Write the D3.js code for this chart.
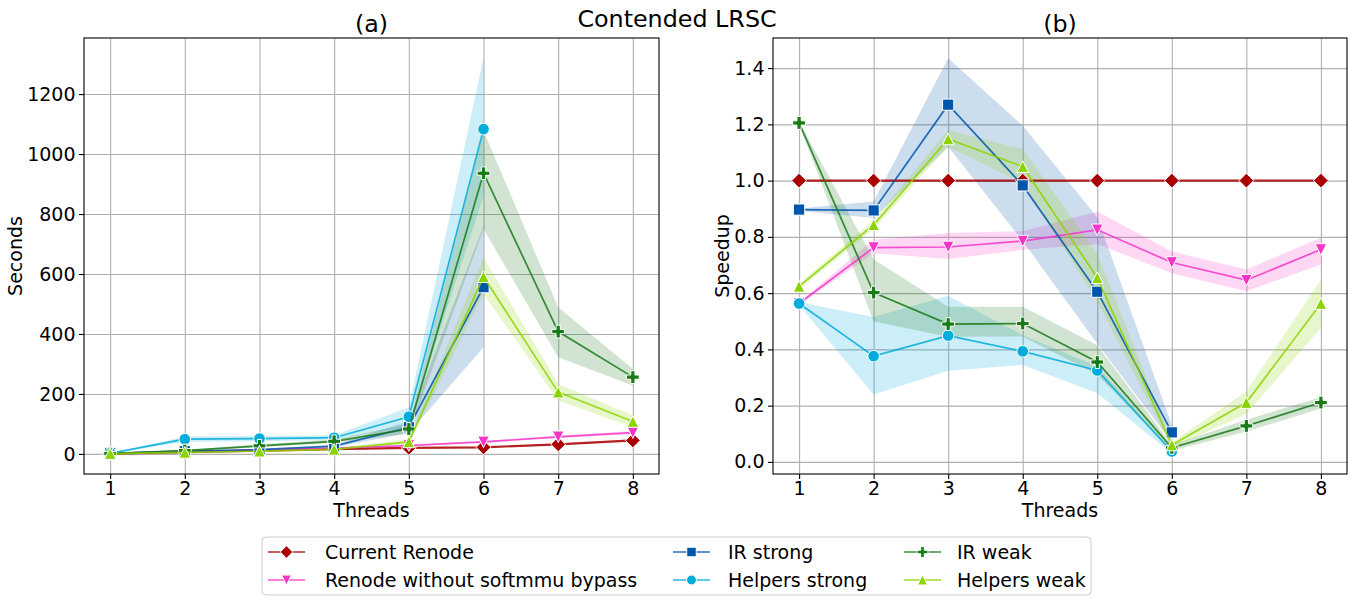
<!DOCTYPE html>
<html>
<head>
<meta charset="utf-8">
<script src="https://cdn.jsdelivr.net/npm/d3@7"></script>
<style>
body { margin: 0; background: #fff; }
svg { font-family: "DejaVu Sans", sans-serif; }
</style>
</head>
<body>
<svg id="chart" width="1358" height="599"></svg>
<script>
var threads = [1, 2, 3, 4, 5, 6, 7, 8];
var names = ["Current Renode", "Renode without softmmu bypass", "IR strong", "Helpers strong", "IR weak", "Helpers weak"];
var colors = ["#aa0000", "#f535c9", "#0056aa", "#00acdb", "#187a18", "#8cd400"];
var markers = ["diamond", "triDown", "square", "circle", "plus", "triUp"];

// (a) seconds: mean, lower and upper band
var secCurrent = [1, 6, 11, 16, 20, 22, 32, 45];
var secCurrentLo = [0.5, 5, 10, 14, 18, 20, 29, 41];
var secCurrentHi = [1.5, 7, 12, 18, 22, 24, 35, 49];
var secNoBypass = [2, 8, 13, 19, 28, 40, 57, 71];
var secNoBypassLo = [1.5, 7, 11, 17, 25, 37, 53, 66];
var secNoBypassHi = [2.5, 9, 15, 21, 31, 43, 61, 76];
var secIrStrong = [2, 9, 14, 26, 89, 556];
var secIrStrongLo = [1.5, 7, 12, 22, 70, 356];
var secIrStrongHi = [2.5, 11, 17, 30, 110, 761];
var secHelpStrong = [2, 49, 51, 54, 124, 1083];
var secHelpStrongLo = [1.5, 40, 42, 46, 92, 860];
var secHelpStrongHi = [2.5, 58, 60, 62, 155, 1322];
var secIrWeak = [1, 11, 27, 42, 83, 936, 408, 256];
var secIrWeakLo = [0.5, 9, 22, 36, 68, 750, 322, 228];
var secIrWeakHi = [1.5, 13, 32, 48, 100, 1078, 489, 283];
var secHelpWeak = [1, 5, 9, 15, 40, 591, 206, 108];
var secHelpWeakLo = [0.5, 4, 7, 12, 32, 533, 178, 89];
var secHelpWeakHi = [1.5, 6, 11, 18, 50, 656, 233, 128];

// (b) speedup
var spCurrent = [1, 1, 1, 1, 1, 1, 1, 1];
var spNoBypass = [0.563, 0.762, 0.764, 0.785, 0.825, 0.709, 0.646, 0.755];
var spNoBypassLo = [0.558, 0.742, 0.721, 0.754, 0.775, 0.671, 0.607, 0.702];
var spNoBypassHi = [0.568, 0.79, 0.814, 0.82, 0.89, 0.748, 0.684, 0.797];
var spIrStrong = [0.897, 0.894, 1.27, 0.983, 0.605, 0.105];
var spIrStrongLo = [0.893, 0.867, 1.12, 0.785, 0.42, 0.07];
var spIrStrongHi = [0.901, 0.926, 1.435, 1.195, 0.87, 0.13];
var spHelpStrong = [0.563, 0.376, 0.449, 0.393, 0.325, 0.037];
var spHelpStrongLo = [0.558, 0.24, 0.324, 0.345, 0.244, 0.03];
var spHelpStrongHi = [0.568, 0.515, 0.591, 0.45, 0.34, 0.045];
var spIrWeak = [1.205, 0.602, 0.49, 0.492, 0.355, 0.05, 0.128, 0.211];
var spIrWeakLo = [1.2, 0.499, 0.445, 0.446, 0.31, 0.04, 0.108, 0.19];
var spIrWeakHi = [1.21, 0.72, 0.552, 0.552, 0.415, 0.06, 0.15, 0.23];
var spHelpWeak = [0.624, 0.843, 1.148, 1.05, 0.655, 0.06, 0.211, 0.563];
var spHelpWeakLo = [0.614, 0.828, 1.12, 0.99, 0.57, 0.05, 0.17, 0.476];
var spHelpWeakHi = [0.634, 0.86, 1.18, 1.112, 0.74, 0.07, 0.25, 0.648];

var secTicks = [0, 200, 400, 600, 800, 1000, 1200];
var spTicks = [0, 0.2, 0.4, 0.6, 0.8, 1.0, 1.2, 1.4];

var fontSize = 19;
var titleSize = 23.8;

var svg = d3.select("#chart");

function markerPath(type, s) {
    var h;
    if (type == "diamond") { h = 7.4 * s; return "M0," + (-h) + "L" + h + ",0L0," + h + "L" + (-h) + ",0Z"; }
    if (type == "square") { h = 5.6 * s; return "M" + (-h) + "," + (-h) + "H" + h + "V" + h + "H" + (-h) + "Z"; }
    if (type == "circle") { h = 5.8 * s; return "M" + h + ",0A" + h + "," + h + " 0 1,1 " + (-h) + ",0A" + h + "," + h + " 0 1,1 " + h + ",0Z"; }
    if (type == "triUp") { h = 5.8 * s; return "M0," + (-h) + "L" + h + "," + h + "L" + (-h) + "," + h + "Z"; }
    if (type == "triDown") { h = 5.8 * s; return "M0," + h + "L" + h + "," + (-h) + "L" + (-h) + "," + (-h) + "Z"; }
    if (type == "plus") {
        h = 6.4 * s; var a = 2.1 * s;
        return "M" + (-a) + "," + (-h) + "H" + a + "V" + (-a) + "H" + h + "V" + a + "H" + a + "V" + h +
               "H" + (-a) + "V" + a + "H" + (-h) + "V" + (-a) + "H" + (-a) + "Z";
    }
}

function drawPanel(opts) {
    var g = svg.append("g");
    var x = d3.scaleLinear().domain([0.65, 8.35]).range([opts.left, opts.right]);
    var y = d3.scaleLinear().domain(opts.yDomain).range([474, 38]);

    // grid
    g.append("g").attr("transform", "translate(0,474)")
        .call(d3.axisBottom(x).tickValues(threads).tickSize(-436).tickFormat(""))
        .call(function(a) { a.select(".domain").remove(); a.selectAll("line").attr("stroke", "#b0b0b0").attr("stroke-width", 1.1); });
    g.append("g").attr("transform", "translate(" + opts.left + ",0)")
        .call(d3.axisLeft(y).tickValues(opts.yTicks).tickSize(-(opts.right - opts.left)).tickFormat(""))
        .call(function(a) { a.select(".domain").remove(); a.selectAll("line").attr("stroke", "#b0b0b0").attr("stroke-width", 1.1); });

    var plot = g.append("g");
    // bands underneath all lines
    opts.series.forEach(function(s) {
        if (!s.lo) return;
        var pts = s.mean.map(function(v, i) { return i; });
        var area = d3.area()
            .x(function(i) { return x(threads[i]); })
            .y0(function(i) { return y(s.lo[i]); })
            .y1(function(i) { return y(s.hi[i]); });
        plot.append("path").datum(pts).attr("d", area)
            .attr("fill", s.color).attr("fill-opacity", 0.2).attr("stroke", "none");
    });
    opts.series.forEach(function(s) {
        var pts = s.mean.map(function(v, i) { return i; });
        var line = d3.line().x(function(i) { return x(threads[i]); }).y(function(i) { return y(s.mean[i]); });
        plot.append("path").datum(pts).attr("d", line)
            .attr("fill", "none").attr("stroke", s.color).attr("stroke-opacity", 0.85)
            .attr("stroke-width", s.marker == "diamond" ? 2.2 : 1.7);
        plot.selectAll(null).data(pts).enter().append("path")
            .attr("transform", function(i) { return "translate(" + x(threads[i]) + "," + y(s.mean[i]) + ")"; })
            .attr("d", markerPath(s.marker, 1))
            .attr("fill", s.color).attr("stroke", "#fff").attr("stroke-width", 1);
    });

    // axes
    var xa = g.append("g").attr("transform", "translate(0,474)")
        .call(d3.axisBottom(x).tickValues(threads).tickSize(5).tickPadding(3).tickFormat(d3.format("d")));
    var ya = g.append("g").attr("transform", "translate(" + opts.left + ",0)")
        .call(d3.axisLeft(y).tickValues(opts.yTicks).tickSize(5).tickPadding(3.5).tickFormat(opts.fmt));
    [xa, ya].forEach(function(a) {
        a.select(".domain").remove();
        a.selectAll("text").attr("font-size", fontSize).attr("fill", "#000").attr("font-family", "DejaVu Sans");
        a.selectAll("line").attr("stroke", "#000").attr("stroke-width", 1.1);
    });
    g.append("rect").attr("x", opts.left).attr("y", 38).attr("width", opts.right - opts.left).attr("height", 436)
        .attr("fill", "none").attr("stroke", "#000").attr("stroke-width", 1.1);

    var cx = (opts.left + opts.right) / 2;
    g.append("text").attr("x", cx).attr("y", 517).attr("text-anchor", "middle").attr("font-size", fontSize).text("Threads");
    g.append("text").attr("transform", "translate(" + opts.labelX + ",256) rotate(-90)")
        .attr("text-anchor", "middle").attr("font-size", fontSize).text(opts.yLabel);
    g.append("text").attr("x", cx).attr("y", 32).attr("text-anchor", "middle").attr("font-size", titleSize).text(opts.title);
}

function mk(i, mean, lo, hi) {
    return { name: names[i], color: colors[i], marker: markers[i], mean: mean, lo: lo, hi: hi };
}

drawPanel({
    left: 84, right: 659, yDomain: [-67, 1387], yTicks: secTicks, fmt: d3.format("d"),
    yLabel: "Seconds", labelX: 22, title: "(a)",
    series: [
        mk(0, secCurrent, secCurrentLo, secCurrentHi),
        mk(1, secNoBypass, secNoBypassLo, secNoBypassHi),
        mk(2, secIrStrong, secIrStrongLo, secIrStrongHi),
        mk(3, secHelpStrong, secHelpStrongLo, secHelpStrongHi),
        mk(4, secIrWeak, secIrWeakLo, secIrWeakHi),
        mk(5, secHelpWeak, secHelpWeakLo, secHelpWeakHi)
    ]
});

drawPanel({
    left: 773, right: 1347, yDomain: [-0.043, 1.507], yTicks: spTicks, fmt: d3.format(".1f"),
    yLabel: "Speedup", labelX: 729, title: "(b)",
    series: [
        mk(0, spCurrent, null, null),
        mk(1, spNoBypass, spNoBypassLo, spNoBypassHi),
        mk(2, spIrStrong, spIrStrongLo, spIrStrongHi),
        mk(3, spHelpStrong, spHelpStrongLo, spHelpStrongHi),
        mk(4, spIrWeak, spIrWeakLo, spIrWeakHi),
        mk(5, spHelpWeak, spHelpWeakLo, spHelpWeakHi)
    ]
});

svg.append("text").attr("x", 677).attr("y", 27).attr("text-anchor", "middle").attr("font-size", titleSize).text("Contended LRSC");

// legend, three columns
var legend = svg.append("g");
legend.append("rect").attr("x", 262).attr("y", 537).attr("width", 829).attr("height", 58).attr("rx", 4)
    .attr("fill", "#fff").attr("stroke", "#cccccc").attr("stroke-width", 1);
var colX = [268, 673, 904];
var textX = [325, 728, 957];
var rowY = [552, 580];
names.forEach(function(n, i) {
    var c = Math.floor(i / 2), lx = colX[c], ly = rowY[i % 2];
    var item = legend.append("g");
    item.append("line").attr("x1", lx).attr("x2", lx + 37).attr("y1", ly).attr("y2", ly)
        .attr("stroke", colors[i]).attr("stroke-opacity", 0.85).attr("stroke-width", 1.7);
    item.append("path").attr("transform", "translate(" + (lx + 18.5) + "," + ly + ")")
        .attr("d", markerPath(markers[i], 0.85)).attr("fill", colors[i]).attr("stroke", "#fff").attr("stroke-width", 1);
    item.append("text").attr("x", textX[c]).attr("y", ly + 6.8).attr("font-size", fontSize).text(n);
});
</script>
</body>
</html>
